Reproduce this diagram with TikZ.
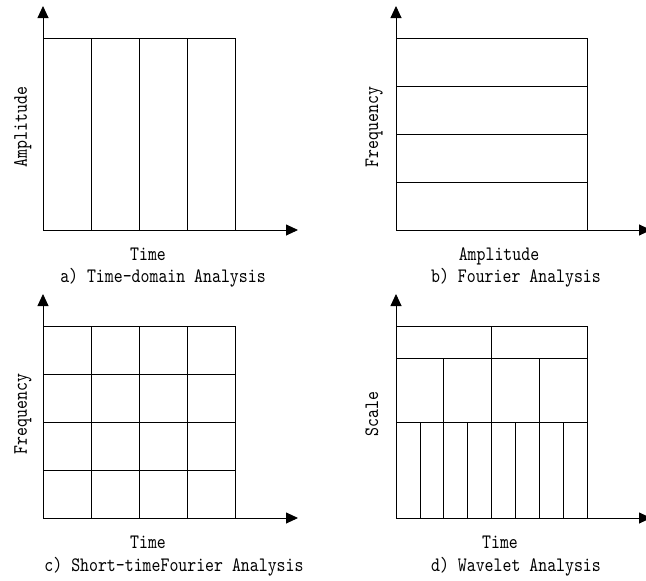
\documentclass[tikz,border=0pt]{standalone}
\usepackage{fontspec}
\newfontfamily\lblfont[FakeStretch=0.83]{lmmono10-regular.otf}
\usetikzlibrary{arrows.meta}
\begin{document}
\begin{tikzpicture}[x=1pt,y=-1pt,
  ln/.style={line width=0.9pt},
  axis/.style={line width=0.9pt,-{Triangle[length=12pt,width=11pt]}},
  lbl/.style={font=\lblfont\fontsize{20.5}{20.5}\selectfont, inner sep=0pt, anchor=base}]
\useasboundingbox (0,0) rectangle (646,581);
\clip (0,0) rectangle (646,581);
% ---------- panel a ----------
\coordinate (oa) at (43,230);
\draw[ln] (43,38) rectangle (235.5,230);
\foreach \x in {91,139,187} \draw[ln] (\x,38) -- (\x,230);
\draw[axis] (oa) -- (298,230);
\draw[axis] (oa) -- (43,6);
\node[lbl,rotate=90] (ya) at (27,127) {Amplitude};
\node[lbl] (xa) at (148,260) {Time};
\node[lbl] (ca) at (163,282) {a) Time-domain Analysis};
% ---------- panel b ----------
\coordinate (ob) at (396,230);
\draw[ln] (396,38) rectangle (587.5,230);
\foreach \y in {86,134,182} \draw[ln] (396,\y) -- (587.5,\y);
\draw[axis] (ob) -- (651,230);
\draw[axis] (ob) -- (396,6);
\node[lbl,rotate=90] (yb) at (378,127) {Frequency};
\node[lbl] (xb) at (499,260) {Amplitude};
\node[lbl] (cb) at (516,282) {b) Fourier Analysis};
% ---------- panel c ----------
\coordinate (oc) at (43,518);
\draw[ln] (43,326) rectangle (235.5,518);
\foreach \x in {91,139,187} \draw[ln] (\x,326) -- (\x,518);
\foreach \y in {374,422,470} \draw[ln] (43,\y) -- (235.5,\y);
\draw[axis] (oc) -- (298,518);
\draw[axis] (oc) -- (43,294);
\node[lbl,rotate=90] (yc) at (27,414) {Frequency};
\node[lbl] (xc) at (148,548.5) {Time};
\node[lbl] (cc) at (174,571.5) {c) Short-timeFourier Analysis};
% ---------- panel d ----------
\coordinate (od) at (396,518);
\draw[ln] (396,326) rectangle (587.5,518);
\foreach \y in {358,422} \draw[ln] (396,\y) -- (587.5,\y);
\draw[ln] (491.5,326) -- (491.5,518);
\foreach \x in {443.5,539.5} \draw[ln] (\x,358) -- (\x,518);
\foreach \x in {420,467.5,515.5,563.5} \draw[ln] (\x,422) -- (\x,518);
\draw[axis] (od) -- (651,518);
\draw[axis] (od) -- (396,294);
\node[lbl,rotate=90] (yd) at (378,414) {Scale};
\node[lbl] (xd) at (500,548.5) {Time};
\node[lbl] (cd) at (516,571.5) {d) Wavelet Analysis};
\end{tikzpicture}
\end{document}
